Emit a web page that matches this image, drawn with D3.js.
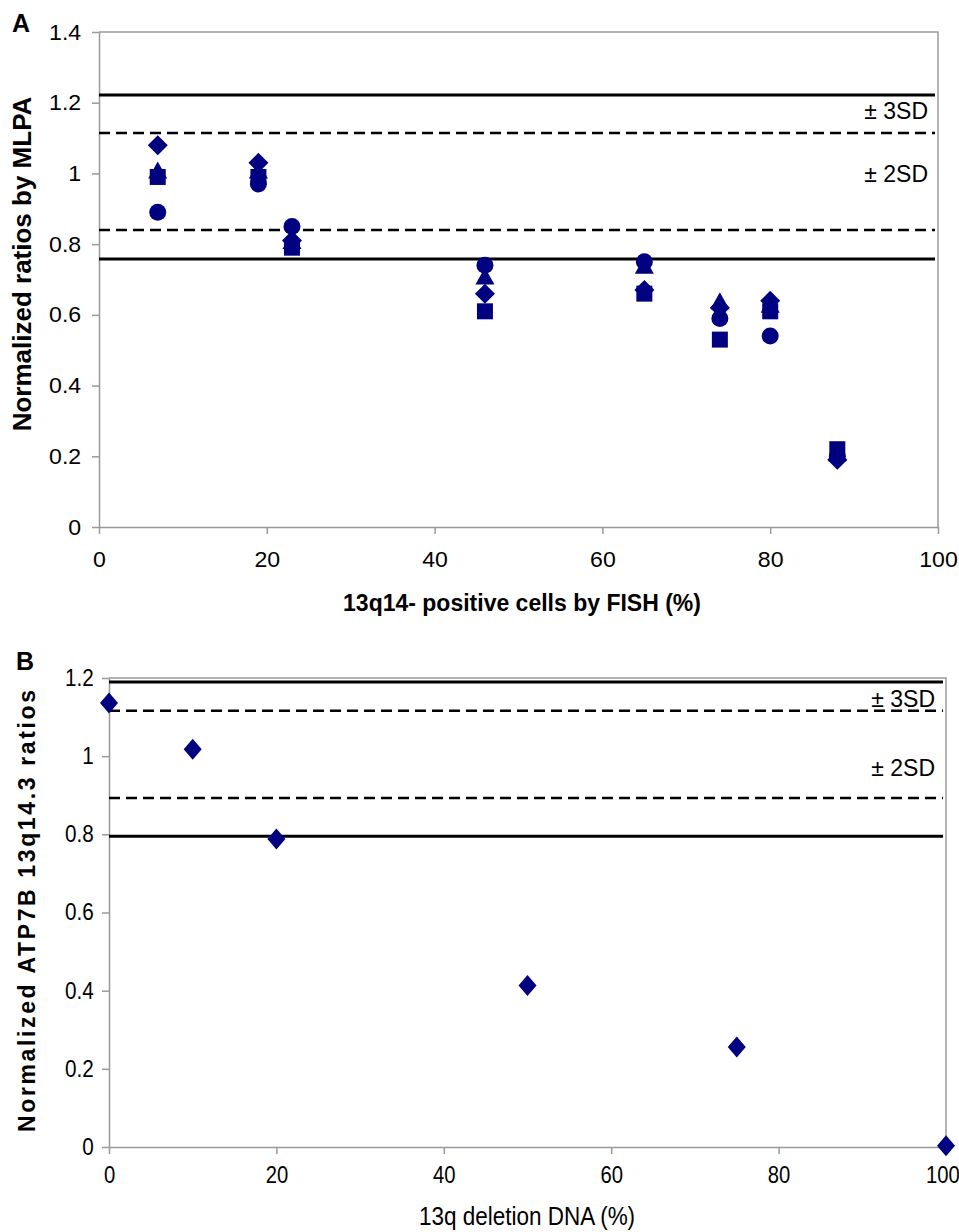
<!DOCTYPE html>
<html>
<head>
<meta charset="utf-8">
<script src="https://cdn.jsdelivr.net/npm/d3@7"></script>
<style>
  body { margin: 0; background: #fff; }
  svg { display: block; font-family: "Liberation Sans", Arial, sans-serif; }
</style>
</head>
<body>
<svg id="chart" width="959" height="1232"></svg>
<script>
// ---- data: panel A (13q14- positive cells by FISH vs MLPA ratios) ----
var xA = [7, 19, 23, 46, 65, 74, 80, 88];
var diamondA = [1.08, 1.03, 0.81, 0.66, 0.67, 0.62, 0.64, 0.19];
var triangleA = [1.01, 1.01, 0.81, 0.71, 0.74, 0.64, 0.63, 0.21];
var circleA = [0.89, 0.97, 0.85, 0.74, 0.75, 0.59, 0.54, 0.20];
var squareA = [0.99, 0.99, 0.79, 0.61, 0.66, 0.53, 0.61, 0.22];
var solidA = [1.222, 0.758];   // +/- 3SD
var dashedA = [1.114, 0.840];  // +/- 2SD

// ---- data: panel B (13q deletion DNA vs ATP7B ratios) ----
var xB = [0, 10, 20, 50, 75, 100];
var yB = [1.136, 1.018, 0.788, 0.413, 0.256, 0.003];
var solidB = [1.19, 0.795];
var dashedB = [1.116, 0.893];

// ---- ticks ----
var xTicks = [0, 20, 40, 60, 80, 100];
var yTicksA = [0, 0.2, 0.4, 0.6, 0.8, 1, 1.2, 1.4];
var yTicksB = [0, 0.2, 0.4, 0.6, 0.8, 1, 1.2];
var sdLabels = ["\u00B1 3SD", "\u00B1 2SD"];

var navy = "#000080";
var axisGray = "#999";
var fontFam = "'Liberation Sans', Arial, sans-serif";
var svg = d3.select("#chart");
var fmt = function(d) { return String(+d.toFixed(1)); };

/* custom marker shapes (width, height in px) */
function diamondType(w, h) {
    return { draw: function(c) {
        c.moveTo(0, -h / 2); c.lineTo(w / 2, 0); c.lineTo(0, h / 2); c.lineTo(-w / 2, 0); c.closePath();
    } };
}
function triangleType(w, h) {
    return { draw: function(c) {
        c.moveTo(0, -h / 2); c.lineTo(w / 2, h / 2); c.lineTo(-w / 2, h / 2); c.closePath();
    } };
}

function styleAxis(g) {
    g.attr("font-family", fontFam);
    g.select(".domain").attr("stroke", axisGray).attr("stroke-width", 1.5);
    g.selectAll(".tick line").attr("stroke", axisGray).attr("stroke-width", 1.5);
    g.selectAll(".tick text").attr("fill", "#000");
}

function drawPanel(o) {
    var x = d3.scaleLinear().domain([0, 100]).range([o.left, o.right]);
    var y = d3.scaleLinear().domain([0, o.yMax]).range([o.bottom, o.top]);

    // frame (top and right, gray)
    svg.append("path")
        .attr("d", "M" + o.left + "," + o.top + "H" + o.right + "V" + o.bottom)
        .attr("fill", "none").attr("stroke", axisGray).attr("stroke-width", 1.5);

    var gx = svg.append("g")
        .attr("transform", "translate(0," + o.bottom + ")")
        .call(d3.axisBottom(x).tickValues(xTicks).tickSize(7).tickSizeOuter(0).tickPadding(o.xPad));
    styleAxis(gx);
    gx.selectAll("text").attr("font-size", o.xTickFont + "px")
        .attr("transform", "scale(" + o.xTickStretch + ",1)");
    gx.selectAll(".tick:last-of-type text").attr("x", o.lastShift);

    var gy = svg.append("g")
        .attr("transform", "translate(" + o.left + ",0)")
        .call(d3.axisLeft(y).tickValues(o.yTicks).tickSize(7).tickSizeOuter(0).tickPadding(10).tickFormat(fmt));
    styleAxis(gy);
    gy.selectAll("text").attr("font-size", o.yTickFont + "px")
        .attr("transform", "scale(" + o.yTickStretch + ",1)");

    // reference lines
    svg.append("g").selectAll("line").data(o.solid).enter().append("line")
        .attr("x1", x(0)).attr("x2", x(100) - 3)
        .attr("y1", function(d) { return y(d); }).attr("y2", function(d) { return y(d); })
        .attr("stroke", "#000").attr("stroke-width", 3);
    svg.append("g").selectAll("line").data(o.dashed).enter().append("line")
        .attr("x1", x(0)).attr("x2", x(100) - 3)
        .attr("y1", function(d) { return y(d); }).attr("y2", function(d) { return y(d); })
        .attr("stroke", "#000").attr("stroke-width", 2.5).attr("stroke-dasharray", "11,6");

    // +/- SD labels
    svg.append("g").selectAll("text").data(sdLabels).enter().append("text")
        .attr("x", o.sdX)
        .attr("y", function(d, i) { return o.sdY[i]; })
        .attr("text-anchor", "end")
        .attr("font-size", "23px")
        .text(function(d) { return d; });

    // markers
    o.series.forEach(function(s) {
        svg.append("g").selectAll("path").data(s.values).enter().append("path")
            .attr("transform", function(d, i) { return "translate(" + x(o.xs[i]) + "," + y(d) + ")"; })
            .attr("d", d3.symbol().type(s.type).size(s.size || 64))
            .attr("fill", navy);
    });
}

drawPanel({
    left: 99, right: 938, top: 32, bottom: 527, yMax: 1.4,
    yTicks: yTicksA, xPad: 17, xTickFont: 22, xTickStretch: 1.05, lastShift: 0,
    yTickFont: 22, yTickStretch: 1.05,
    solid: solidA, dashed: dashedA, sdX: 928, sdY: [119, 182],
    xs: xA,
    series: [
        { type: diamondType(20, 20), values: diamondA },
        { type: triangleType(19, 17), values: triangleA },
        { type: d3.symbolCircle, size: 227, values: circleA },
        { type: d3.symbolSquare, size: 256, values: squareA }
    ]
});

drawPanel({
    left: 109, right: 946, top: 678, bottom: 1147, yMax: 1.2,
    yTicks: yTicksB, xPad: 13, xTickFont: 23, xTickStretch: 0.88, lastShift: -4,
    yTickFont: 23, yTickStretch: 0.9,
    solid: solidB, dashed: dashedB, sdX: 935, sdY: [707, 776],
    xs: xB,
    series: [{ type: diamondType(18, 21), values: yB }]
});

// panel letters
svg.append("text").attr("x", 12).attr("y", 32).attr("font-size", "25px").attr("font-weight", "bold").text("A");
svg.append("text").attr("x", 16).attr("y", 670).attr("font-size", "25px").attr("font-weight", "bold").text("B");

// axis titles
svg.append("text")
    .attr("transform", "translate(522,611)")
    .attr("text-anchor", "middle").attr("font-size", "23px").attr("font-weight", "bold")
    .text("13q14- positive cells by FISH (%)");
svg.append("text")
    .attr("transform", "translate(31,264) rotate(-90)")
    .attr("text-anchor", "middle").attr("font-size", "26px").attr("font-weight", "bold")
    .text("Normalized ratios by MLPA");
svg.append("text")
    .attr("transform", "translate(527,1225) scale(0.9,1)")
    .attr("text-anchor", "middle").attr("font-size", "25px")
    .text("13q deletion DNA (%)");
svg.append("text")
    .attr("transform", "translate(35,911) rotate(-90)")
    .attr("text-anchor", "middle").attr("font-size", "23px").attr("font-weight", "bold")
    .attr("textLength", 442).attr("lengthAdjust", "spacing")
    .text("Normalized ATP7B 13q14.3 ratios");
</script>
</body>
</html>
